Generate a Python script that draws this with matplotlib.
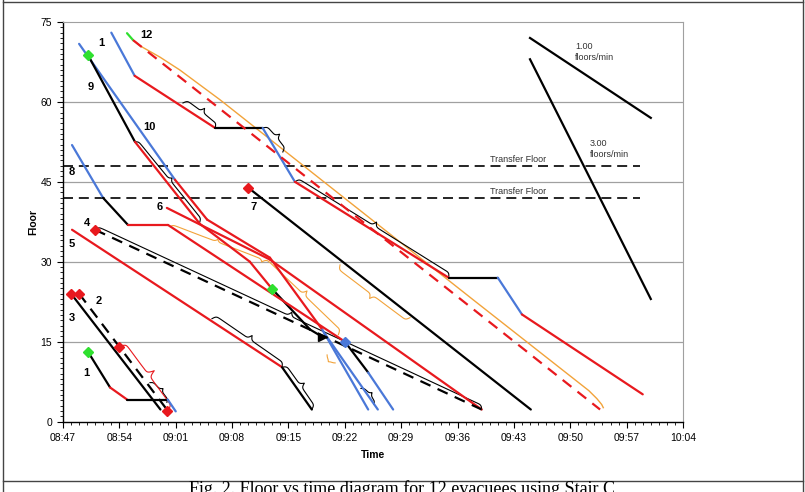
import numpy as np
import matplotlib
matplotlib.use('Agg')
import matplotlib.pyplot as plt
from matplotlib.lines import Line2D

plt.rcParams['font.family'] = ['Liberation Sans', 'DejaVu Sans']

RED = '#e8191e'
BLUE = '#4a78d8'
BLACK = '#000000'
GREEN = '#2fe02f'
ORANGE = '#f2a33a'
CMAP = {'r': RED, 'b': BLUE, 'k': BLACK, 'g': GREEN}

# ---- axis (time = minutes after 08:47) ----
tick_minutes = [0, 7, 14, 21, 28, 35, 42, 49, 56, 63, 70, 77]
tick_labels = ['08:47', '08:54', '09:01', '09:08', '09:15', '09:22',
               '09:29', '09:36', '09:43', '09:50', '09:57', '10:04']
floor_ticks = [0, 15, 30, 45, 60, 75]

# ---- evacuee paths: times, floors, colour of each segment ----
e1_t = [6.0, 8.9, 18.9, 24.8, 28.8, 47.9, 54.0, 57.0, 72.0]
e1_f = [73.0, 64.9, 55.1, 55.1, 45.0, 27.0, 27.0, 20.1, 5.1]
e1_c = ['b', 'r', 'k', 'b', 'r', 'k', 'b', 'r']

e12_t = [7.95, 8.7, 66.7]
e12_f = [72.9, 71.6, 2.25]
e12_c = ['g', 'r--']

e12_env_t = [8.7, 9.6, 12.05, 14.5, 17.0, 19.5, 50.9, 65.3, 66.3, 66.9, 67.1]
e12_env_f = [71.6, 70.5, 68.4, 66.0, 63.2, 60.4, 22.9, 5.8, 4.3, 3.2, 2.6]

e10_t = [2.0, 13.9, 17.9, 25.7, 32.2, 37.9]
e10_f = [70.9, 45.4, 37.9, 30.75, 17.25, 2.25]
e10_c = ['b', 'r', 'r', 'r', 'b']

e9_t = [3.1, 8.94, 17.0, 23.2, 25.96, 30.7, 32.2]
e9_f = [68.8, 52.5, 37.1, 30.0, 24.9, 17.25, 15.9]
e9_c = ['k', 'r', 'r', 'r', 'k', 'k']
e9b_t = [32.4, 39.1]
e9b_f = [16.7, 2.25]

e8_t = [1.12, 4.97, 8.07, 13.04, 35.0, 37.9, 41.0]
e8_f = [51.9, 42.0, 36.9, 36.9, 15.0, 9.2, 2.25]
e8_c = ['b', 'k', 'r', 'r', 'k', 'b']

e6_t = [12.9, 25.7, 52.0]
e6_f = [40.1, 30.4, 2.25]
e6_c = ['r', 'r']

e7_t = [23.0, 58.1]
e7_f = [43.9, 2.25]
e7_c = ['k']

e5_t = [1.12, 27.2, 30.9]
e5_f = [36.0, 10.2, 2.25]
e5_c = ['r', 'k']

e4_t = [3.97, 52.0]
e4_f = [36.0, 2.25]
e4_c = ['k--']

e3_t = [1.0, 12.1]
e3_f = [24.0, 2.25]
e3_c = ['k']

e2_t = [2.0, 12.9]
e2_f = [24.0, 2.25]
e2_c = ['k--']

e11_t = [3.1, 5.84, 7.95, 13.0, 14.0]
e11_f = [13.1, 6.4, 4.13, 4.13, 1.9]
e11_c = ['k', 'r', 'k', 'b']

paths = [(e1_t, e1_f, e1_c), (e12_t, e12_f, e12_c), (e10_t, e10_f, e10_c),
         (e9_t, e9_f, e9_c), (e9b_t, e9b_f, ['b']), (e8_t, e8_f, e8_c),
         (e6_t, e6_f, e6_c), (e7_t, e7_f, e7_c), (e5_t, e5_f, e5_c),
         (e4_t, e4_f, e4_c), (e3_t, e3_f, e3_c), (e2_t, e2_f, e2_c),
         (e11_t, e11_f, e11_c)]

# ---- markers ----
green_t = [3.1, 3.1, 25.96]
green_f = [68.8, 13.1, 24.9]
red_t = [23.0, 3.97, 1.0, 2.0, 6.95, 12.92]
red_f = [43.9, 36.0, 24.0, 24.0, 14.06, 1.88]
blue_t = [35.0]
blue_f = [15.0]
tri_t = [32.2]
tri_f = [15.9]

# ---- braces: (t0, f0, t1, f1, height px, colour) ----
braces = [
    (14.9, 59.8, 18.9, 55.1, 9, BLACK),
    (24.8, 55.1, 27.3, 50.6, 9, BLACK),
    (8.94, 52.5, 17.0, 37.5, 6, BLACK),
    (28.8, 45.0, 47.9, 27.0, 9, BLACK),
    (3.97, 36.0, 52.0, 2.25, 8, BLACK),
    (18.5, 19.3, 27.2, 10.2, 9, BLACK),
    (27.2, 10.2, 30.9, 2.25, 9, BLACK),
    (10.8, 7.3, 12.9, 3.6, 6, BLACK),
    (37.0, 6.2, 38.6, 3.2, 6, BLACK),
    (6.95, 14.06, 12.92, 1.88, 14, RED),
    (13.3, 36.6, 24.7, 30.0, 5, ORANGE),
    (24.7, 30.0, 34.2, 16.3, 10, ORANGE),
    (34.4, 29.4, 43.1, 19.5, -9, ORANGE),
    (32.8, 12.5, 33.8, 11.0, -4, ORANGE),
]

# ---- reference rate lines ----
rate1_t = [58.0, 73.0]
rate1_f = [72.0, 57.0]
rate3_t = [58.0, 73.0]
rate3_f = [68.0, 23.0]

transfer_floors = [48, 42]
transfer_end = 71.7

labels = [('1', 4.72, 71.07), ('12', 10.31, 72.56), ('9', 3.48, 62.81),
          ('10', 10.68, 55.31), ('8', 1.12, 46.88), ('7', 23.72, 40.31),
          ('6', 12.05, 40.31), ('4', 3.0, 37.31), ('5', 1.12, 33.38),
          ('3', 1.12, 19.50), ('2', 4.47, 22.69), ('1', 2.86, 9.19)]

W, H = 805, 492
fig = plt.figure(figsize=(W / 100, H / 100), dpi=100)
ax = fig.add_axes([63 / W, 1 - 421.5 / H, 620 / W, 399.5 / H])
ax.set_xlim(0, 77)
ax.set_ylim(0, 75)

for y in [15, 30, 45, 60]:
    ax.axhline(y, color='#a0a0a0', lw=0.9, zorder=0)

for fl in transfer_floors:
    ax.plot([0, transfer_end], [fl, fl], color='black', lw=1.2,
            dashes=(6, 3.5), zorder=1)
    ax.text(53.0, fl + 0.4, 'Transfer Floor', fontsize=6.5,
            color='#333333', va='bottom', ha='left')

LW = 1.6
for ts, fs, cs in paths:
    for i, c in enumerate(cs):
        col = CMAP[c[0]]
        kw = dict(color=col, lw=LW, solid_capstyle='round', zorder=3)
        if c.endswith('--'):
            kw['dashes'] = (5, 3.5)
            kw['dash_capstyle'] = 'butt'
        ax.plot(ts[i:i + 2], fs[i:i + 2], **kw)

ax.plot(e12_env_t, e12_env_f, color=ORANGE, lw=1.0, zorder=2)


def brace(t0, f0, t1, f1, h, color, lw=0.8, beta=0.9):
    p0 = ax.transData.transform((t0, f0))
    p1 = ax.transData.transform((t1, f1))
    d = p1 - p0
    L = np.hypot(*d)
    u = d / L
    n = np.array([-u[1], u[0]])
    x = np.linspace(0, L, 301)
    half = x[:151]
    yh = (1 / (1 + np.exp(-beta * (half - half[0]))) +
          1 / (1 + np.exp(-beta * (half - half[-1]))))
    yy = np.concatenate([yh, yh[-2::-1]])
    yy = h * (yy - 0.5)
    pts = p0 + np.outer(x, u) + np.outer(yy, n)
    dat = ax.transData.inverted().transform(pts)
    ax.plot(dat[:, 0], dat[:, 1], color=color, lw=lw, zorder=2)


for b in braces:
    brace(*b)

ax.plot(rate1_t, rate1_f, color='black', lw=LW)
ax.plot(rate3_t, rate3_f, color='black', lw=LW)
ax.text(63.6, 71.3, '1.00\nfloors/min', fontsize=6.5, color='#333333',
        va='top', ha='left', linespacing=1.3)
ax.text(65.4, 53.0, '3.00\nfloors/min', fontsize=6.5, color='#333333',
        va='top', ha='left', linespacing=1.3)

ax.plot(green_t, green_f, 'D', color=GREEN, ms=5.5, zorder=5, mec=GREEN)
ax.plot(red_t, red_f, 'D', color=RED, ms=5.5, zorder=5, mec=RED)
ax.plot(blue_t, blue_f, 'D', color=BLUE, ms=5.5, zorder=5, mec=BLUE)
ax.plot(tri_t, tri_f, '>', color='black', ms=6, zorder=5)

for s, t, f in labels:
    ax.text(t, f, s, fontsize=8, fontweight='bold', ha='center', va='center')

ax.set_xticks(tick_minutes)
ax.set_xticklabels(tick_labels)
ax.set_xticks(np.arange(0, 78, 1), minor=True)
ax.set_yticks(floor_ticks)
ax.set_yticks(np.arange(0, 76, 1), minor=True)
ax.tick_params(axis='both', which='major', direction='out', length=4,
               width=0.8, labelsize=7.5, pad=4)
ax.tick_params(axis='both', which='minor', direction='out', length=2.5,
               width=0.6)
for sp in ['top', 'right']:
    ax.spines[sp].set_color('#a0a0a0')
for sp in ['left', 'bottom']:
    ax.spines[sp].set_color('black')
    ax.spines[sp].set_linewidth(1.0)

fig.text(33 / W, 1 - 222 / H, 'Floor', rotation=90, fontsize=7.5,
         fontweight='bold', ha='center', va='center')
fig.text(373 / W, 1 - 455 / H, 'Time', fontsize=7.5, fontweight='bold',
         ha='center', va='center')

fig.text(402 / W, 1 - 480 / H,
         'Fig. 2. Floor vs time diagram for 12 evacuees using Stair C',
         fontsize=13, family='Liberation Serif', ha='center', va='top')

for xs, ys in [([2.5, 2.5], [0, H]), ([802.5, 802.5], [0, H]),
               ([2.5, 802.5], [H - 1.5, H - 1.5]),
               ([2.5, 802.5], [H - 480.5, H - 480.5])]:
    fig.add_artist(Line2D([x / W for x in xs], [y / H for y in ys],
                          color='#444444', lw=1.0))

fig.savefig('out.png', dpi=100)
